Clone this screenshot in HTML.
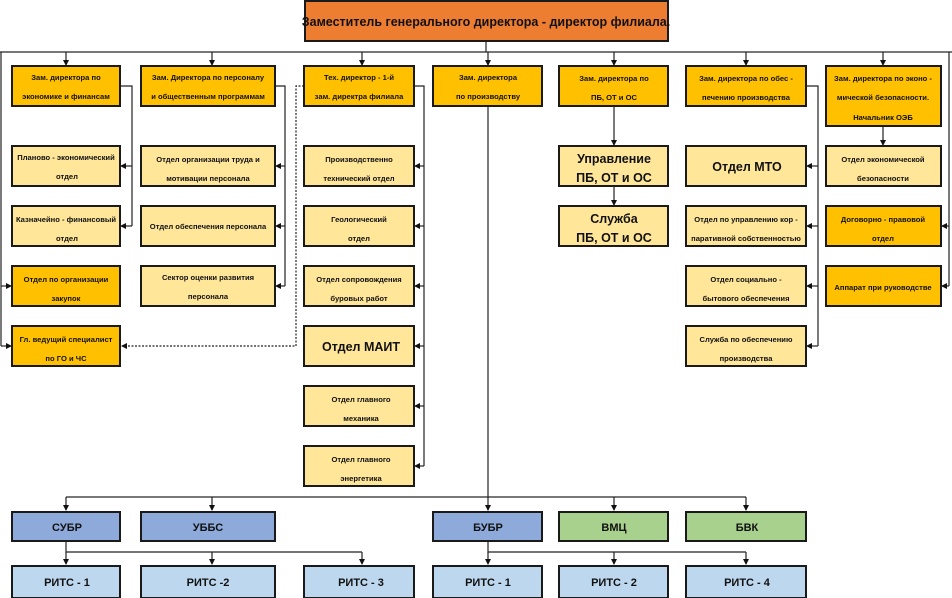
<!DOCTYPE html>
<html><head><meta charset="utf-8"><style>
html,body{margin:0;padding:0;background:#fff;}
svg{display:block;}
text{font-family:"Liberation Sans",sans-serif;font-weight:bold;fill:#111;text-anchor:middle;}
.s{font-size:7.6px;}
.b{font-size:12.5px;}
.m{font-size:11px;}
</style></head><body>
<svg width="952" height="598" viewBox="0 0 952 598" xmlns="http://www.w3.org/2000/svg">
<defs>
<marker id="a" markerWidth="6" markerHeight="6" refX="5" refY="3" orient="auto" markerUnits="userSpaceOnUse"><path d="M0,0 L6,3 L0,6 z" fill="#111"/></marker>
</defs>
<g stroke="#777" stroke-width="2" fill="none">
<line x1="0" y1="52" x2="952" y2="52"/>
<line x1="66" y1="497" x2="746" y2="497"/>
</g>
<g stroke="#222" stroke-width="1.2" fill="none">
<line x1="486" y1="41" x2="486" y2="52"/>
<line x1="1" y1="52" x2="1" y2="346"/>
<line x1="1" y1="286" x2="11" y2="286" marker-end="url(#a)"/>
<line x1="1" y1="346" x2="11" y2="346" marker-end="url(#a)"/>
<line x1="949" y1="52" x2="949" y2="286"/>
<line x1="949" y1="226" x2="942" y2="226" marker-end="url(#a)"/>
<line x1="949" y1="286" x2="942" y2="286" marker-end="url(#a)"/>
<line x1="66" y1="52" x2="66" y2="65" marker-end="url(#a)"/>
<line x1="212" y1="52" x2="212" y2="65" marker-end="url(#a)"/>
<line x1="362" y1="52" x2="362" y2="65" marker-end="url(#a)"/>
<line x1="488" y1="52" x2="488" y2="65" marker-end="url(#a)"/>
<line x1="614" y1="52" x2="614" y2="65" marker-end="url(#a)"/>
<line x1="746" y1="52" x2="746" y2="65" marker-end="url(#a)"/>
<line x1="883" y1="52" x2="883" y2="65" marker-end="url(#a)"/>
<polyline points="120,86 132,86 132,226"/>
<line x1="132" y1="166" x2="121" y2="166" marker-end="url(#a)"/>
<line x1="132" y1="226" x2="121" y2="226" marker-end="url(#a)"/>
<polyline points="275,86 285,86 285,286"/>
<line x1="285" y1="166" x2="276" y2="166" marker-end="url(#a)"/>
<line x1="285" y1="226" x2="276" y2="226" marker-end="url(#a)"/>
<line x1="285" y1="286" x2="276" y2="286" marker-end="url(#a)"/>
<polyline points="414,86 424,86 424,466"/>
<line x1="424" y1="166" x2="415" y2="166" marker-end="url(#a)"/>
<line x1="424" y1="226" x2="415" y2="226" marker-end="url(#a)"/>
<line x1="424" y1="286" x2="415" y2="286" marker-end="url(#a)"/>
<line x1="424" y1="346" x2="415" y2="346" marker-end="url(#a)"/>
<line x1="424" y1="406" x2="415" y2="406" marker-end="url(#a)"/>
<line x1="424" y1="466" x2="415" y2="466" marker-end="url(#a)"/>
<polyline points="304,86 296,86 296,346 122,346" stroke-dasharray="2,1.5" marker-end="url(#a)"/>
<line x1="488" y1="106" x2="488" y2="510" marker-end="url(#a)"/>
<line x1="614" y1="106" x2="614" y2="145" marker-end="url(#a)"/>
<line x1="614" y1="186" x2="614" y2="205" marker-end="url(#a)"/>
<polyline points="806,86 818,86 818,346"/>
<line x1="818" y1="166" x2="807" y2="166" marker-end="url(#a)"/>
<line x1="818" y1="226" x2="807" y2="226" marker-end="url(#a)"/>
<line x1="818" y1="286" x2="807" y2="286" marker-end="url(#a)"/>
<line x1="818" y1="346" x2="807" y2="346" marker-end="url(#a)"/>
<line x1="883" y1="126" x2="883" y2="145" marker-end="url(#a)"/>
<line x1="66" y1="497" x2="66" y2="510" marker-end="url(#a)"/>
<line x1="212" y1="497" x2="212" y2="510" marker-end="url(#a)"/>
<line x1="614" y1="497" x2="614" y2="510" marker-end="url(#a)"/>
<line x1="746" y1="497" x2="746" y2="510" marker-end="url(#a)"/>
<polyline points="66,541 66,552 362,552"/>
<line x1="66" y1="552" x2="66" y2="564" marker-end="url(#a)"/>
<line x1="212" y1="552" x2="212" y2="564" marker-end="url(#a)"/>
<line x1="362" y1="552" x2="362" y2="564" marker-end="url(#a)"/>
<polyline points="488,541 488,552 746,552"/>
<line x1="488" y1="552" x2="488" y2="564" marker-end="url(#a)"/>
<line x1="614" y1="552" x2="614" y2="564" marker-end="url(#a)"/>
<line x1="746" y1="552" x2="746" y2="564" marker-end="url(#a)"/>
</g>
<g stroke="#1a1a1a" stroke-width="2">
<rect x="305" y="1" width="363" height="40" fill="#ed7d31"/>
<!-- headers -->
<rect x="12" y="66" width="108" height="40" fill="#ffc000"/>
<rect x="141" y="66" width="134" height="40" fill="#ffc000"/>
<rect x="304" y="66" width="110" height="40" fill="#ffc000"/>
<rect x="433" y="66" width="109" height="40" fill="#ffc000"/>
<rect x="559" y="66" width="109" height="40" fill="#ffc000"/>
<rect x="686" y="66" width="120" height="40" fill="#ffc000"/>
<rect x="826" y="66" width="115" height="60" fill="#ffc000"/>
<!-- col1 -->
<rect x="12" y="146" width="108" height="40" fill="#ffe699"/>
<rect x="12" y="206" width="108" height="40" fill="#ffe699"/>
<rect x="12" y="266" width="108" height="40" fill="#ffc000"/>
<rect x="12" y="326" width="108" height="40" fill="#ffc000"/>
<!-- col2 -->
<rect x="141" y="146" width="134" height="40" fill="#ffe699"/>
<rect x="141" y="206" width="134" height="40" fill="#ffe699"/>
<rect x="141" y="266" width="134" height="40" fill="#ffe699"/>
<!-- col3 -->
<rect x="304" y="146" width="110" height="40" fill="#ffe699"/>
<rect x="304" y="206" width="110" height="40" fill="#ffe699"/>
<rect x="304" y="266" width="110" height="40" fill="#ffe699"/>
<rect x="304" y="326" width="110" height="40" fill="#ffe699"/>
<rect x="304" y="386" width="110" height="40" fill="#ffe699"/>
<rect x="304" y="446" width="110" height="40" fill="#ffe699"/>
<!-- col5 -->
<rect x="559" y="146" width="109" height="40" fill="#ffe699"/>
<rect x="559" y="206" width="109" height="40" fill="#ffe699"/>
<!-- col6 -->
<rect x="686" y="146" width="120" height="40" fill="#ffe699"/>
<rect x="686" y="206" width="120" height="40" fill="#ffe699"/>
<rect x="686" y="266" width="120" height="40" fill="#ffe699"/>
<rect x="686" y="326" width="120" height="40" fill="#ffe699"/>
<!-- col7 -->
<rect x="826" y="146" width="115" height="40" fill="#ffe699"/>
<rect x="826" y="206" width="115" height="40" fill="#ffc000"/>
<rect x="826" y="266" width="115" height="40" fill="#ffc000"/>
<!-- bottom -->
<rect x="12" y="512" width="108" height="29" fill="#8eaadb"/>
<rect x="141" y="512" width="134" height="29" fill="#8eaadb"/>
<rect x="433" y="512" width="109" height="29" fill="#8eaadb"/>
<rect x="559" y="512" width="109" height="29" fill="#a9d18e"/>
<rect x="686" y="512" width="120" height="29" fill="#a9d18e"/>
<rect x="12" y="566" width="108" height="32" fill="#bdd7ee"/>
<rect x="141" y="566" width="134" height="32" fill="#bdd7ee"/>
<rect x="304" y="566" width="110" height="32" fill="#bdd7ee"/>
<rect x="433" y="566" width="109" height="32" fill="#bdd7ee"/>
<rect x="559" y="566" width="109" height="32" fill="#bdd7ee"/>
<rect x="686" y="566" width="120" height="32" fill="#bdd7ee"/>
</g>
<text x="486" y="26" class="b">Заместитель генерального директора - директор филиала.</text>
<g class="s">
<text x="66" y="80">Зам. директора по</text><text x="66" y="99">экономике и финансам</text>
<text x="208" y="80">Зам. Директора по персоналу</text><text x="208" y="99">и общественным программам</text>
<text x="359" y="80">Тех. директор - 1-й</text><text x="359" y="99">зам. директра филиала</text>
<text x="488" y="80">Зам. директора</text><text x="488" y="99">по производству</text>
<text x="614" y="81">Зам. директора по</text><text x="614" y="100">ПБ, ОТ и ОС</text>
<text x="746" y="81">Зам. директора по обес -</text><text x="746" y="100">печению производства</text>
<text x="883" y="81">Зам. директора по эконо -</text><text x="883" y="100">мической безопасности.</text><text x="883" y="120">Начальник ОЭБ</text>

<text x="66" y="160">Планово - экономический</text><text x="67" y="179">отдел</text>
<text x="66" y="222">Казначейно - финансовый</text><text x="67" y="241">отдел</text>
<text x="66" y="282">Отдел по организации</text><text x="66" y="301">закупок</text>
<text x="66" y="342">Гл. ведущий специалист</text><text x="66" y="361">по ГО и ЧС</text>

<text x="208" y="162">Отдел организации труда и</text><text x="208" y="181">мотивации персонала</text>
<text x="208" y="229">Отдел обеспечения персонала</text>
<text x="208" y="280">Сектор оценки развития</text><text x="208" y="299">персонала</text>

<text x="359" y="162">Производственно</text><text x="359" y="181">технический отдел</text>
<text x="359" y="222">Геологический</text><text x="359" y="241">отдел</text>
<text x="359" y="282">Отдел сопровождения</text><text x="359" y="301">буровых работ</text>
<text x="361" y="402">Отдел главного</text><text x="361" y="421">механика</text>
<text x="361" y="462">Отдел главного</text><text x="361" y="481">энергетика</text>

<text x="746" y="222">Отдел по управлению кор -</text><text x="746" y="241">паративной собственностью</text>
<text x="746" y="282">Отдел социально -</text><text x="746" y="301">бытового обеспечения</text>
<text x="746" y="342">Служба по обеспечению</text><text x="746" y="361">производства</text>

<text x="883" y="162">Отдел экономической</text><text x="883" y="181">безопасности</text>
<text x="883" y="222">Договорно - правовой</text><text x="883" y="241">отдел</text>
<text x="883" y="290">Аппарат при руководстве</text>
</g>
<g class="b">
<text x="361" y="351">Отдел МАИТ</text>
<text x="747" y="171">Отдел МТО</text>
<text x="614" y="163">Управление</text><text x="614" y="182">ПБ, ОТ и ОС</text>
<text x="614" y="223">Служба</text><text x="614" y="242">ПБ, ОТ и ОС</text>
</g>
<g class="m">
<text x="67" y="531">СУБР</text>
<text x="208" y="531">УББС</text>
<text x="488" y="531">БУБР</text>
<text x="614" y="531">ВМЦ</text>
<text x="747" y="531">БВК</text>
<text x="67" y="586">РИТС - 1</text>
<text x="208" y="586">РИТС -2</text>
<text x="361" y="586">РИТС - 3</text>
<text x="488" y="586">РИТС - 1</text>
<text x="614" y="586">РИТС - 2</text>
<text x="747" y="586">РИТС - 4</text>
</g>
</svg>
</body></html>
